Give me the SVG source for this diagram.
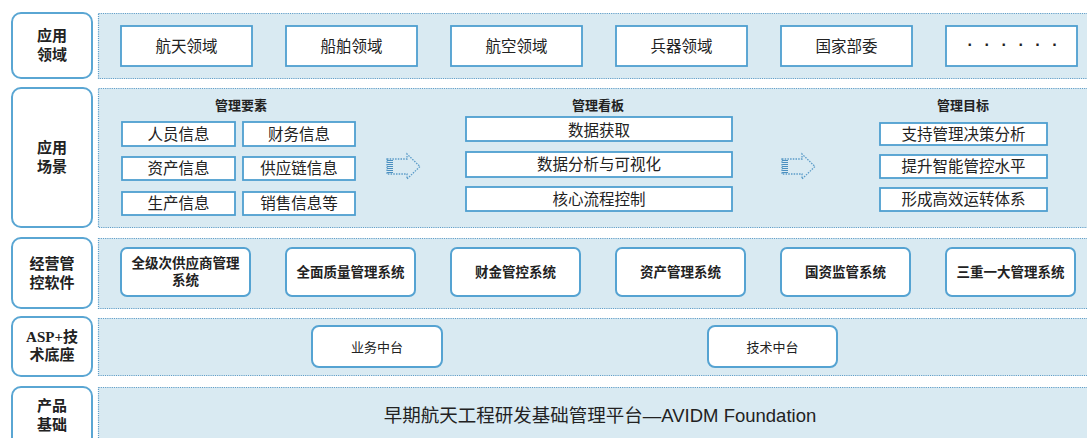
<svg xmlns="http://www.w3.org/2000/svg" width="1087" height="438" viewBox="0 0 1087 438">
<defs>
<pattern id="stripes" width="4" height="2" patternUnits="userSpaceOnUse">
<rect width="4" height="1" fill="#4b8fbf"/>
</pattern>
<style>
text{font-family:"Liberation Sans","Noto Sans CJK SC",sans-serif;fill:#222;}
.lbl{fill:#fff;stroke:#5aa6d3;stroke-width:2;}
.lt{font-size:15px;font-weight:bold;text-anchor:middle;}
.panel{fill:#d9eaf2;stroke:#5e9dc7;stroke-width:1.2;stroke-dasharray:1.2 1;}
.sq{fill:#fff;stroke:#4e9fd0;stroke-width:1.8;}
.rd{fill:#fff;stroke:#55a3d2;stroke-width:2;}
.t15{font-size:15.5px;text-anchor:middle;}
.t13b{font-size:13.5px;font-weight:bold;text-anchor:middle;}
.h{font-size:13px;font-weight:bold;text-anchor:middle;}
.t13{font-size:13px;text-anchor:middle;}
.arr{fill:none;stroke:#5a9bc8;stroke-width:1.3;stroke-dasharray:1.5 1.2;}
</style>
</defs>

<g id="panels">
<rect class="panel" x="98.5" y="13.5" width="995" height="65"/>
<rect class="panel" x="98.5" y="88.5" width="995" height="139"/>
<rect class="panel" x="98.5" y="238.5" width="995" height="70"/>
<rect class="panel" x="98.5" y="318.5" width="995" height="57"/>
<rect class="panel" x="98.5" y="387.5" width="995" height="60"/>
</g>

<g id="label-row1"><rect class="lbl" x="12" y="13" width="80" height="65" rx="9"/>
<text class="lt" x="52" y="41">应用</text><text class="lt" x="52" y="59.5">领域</text></g>
<g id="label-row2"><rect class="lbl" x="12" y="88" width="80" height="139" rx="9"/>
<text class="lt" x="52" y="152.5">应用</text><text class="lt" x="52" y="171.5">场景</text></g>
<g id="label-row3"><rect class="lbl" x="12" y="238" width="80" height="70" rx="9"/>
<text class="lt" x="52" y="268.5">经营管</text><text class="lt" x="52" y="287.5">控软件</text></g>
<g id="label-row4"><rect class="lbl" x="12" y="317" width="80" height="59" rx="9"/>
<text class="lt" x="52" y="342"><tspan font-family="Liberation Serif, serif">ASP+</tspan>技</text><text class="lt" x="52" y="359.5">术底座</text></g>
<g id="label-row5"><rect class="lbl" x="12" y="387" width="80" height="70" rx="9"/>
<text class="lt" x="52" y="410.5">产品</text><text class="lt" x="52" y="430">基础</text></g>

<g id="domain-aerospace"><rect class="sq" x="121" y="26" width="131" height="40"/><text class="t15" x="186.5" y="51.5">航天领域</text></g>
<g id="domain-ship"><rect class="sq" x="286" y="26" width="131" height="40"/><text class="t15" x="351.5" y="51.5">船舶领域</text></g>
<g id="domain-aviation"><rect class="sq" x="451" y="26" width="131" height="40"/><text class="t15" x="516.5" y="51.5">航空领域</text></g>
<g id="domain-weapon"><rect class="sq" x="616" y="26" width="131" height="40"/><text class="t15" x="681.5" y="51.5">兵器领域</text></g>
<g id="domain-ministry"><rect class="sq" x="781" y="26" width="131" height="40"/><text class="t15" x="846.5" y="51.5">国家部委</text></g>
<g id="domain-more"><rect class="sq" x="946" y="26" width="131" height="40"/><text x="967.6" y="50" font-size="16" font-weight="bold" letter-spacing="11.6" style="fill:#222">······</text></g>

<g id="elements">
<text class="h" x="241" y="109.5">管理要素</text>
<rect class="sq" x="122" y="122" width="113" height="24"/><text class="t15" x="178.5" y="139.5">人员信息</text>
<rect class="sq" x="243" y="122" width="112" height="24"/><text class="t15" x="299" y="139.5">财务信息</text>
<rect class="sq" x="122" y="157" width="113" height="23"/><text class="t15" x="178.5" y="174">资产信息</text>
<rect class="sq" x="243" y="157" width="112" height="23"/><text class="t15" x="299" y="174">供应链信息</text>
<rect class="sq" x="122" y="192" width="113" height="23"/><text class="t15" x="178.5" y="209">生产信息</text>
<rect class="sq" x="243" y="192" width="112" height="23"/><text class="t15" x="299" y="209">销售信息等</text>
</g>

<g id="dashboard">
<text class="h" x="598" y="109.5">管理看板</text>
<rect class="sq" x="466" y="117" width="266" height="24"/><text class="t15" x="599" y="136">数据获取</text>
<rect class="sq" x="466" y="152" width="266" height="25"/><text class="t15" x="599" y="170">数据分析与可视化</text>
<rect class="sq" x="466" y="187" width="266" height="24"/><text class="t15" x="599" y="204.5">核心流程控制</text>
</g>

<g id="goals">
<text class="h" x="963" y="109.5">管理目标</text>
<rect class="sq" x="880" y="123" width="167" height="22"/><text class="t15" x="963.5" y="139.5">支持管理决策分析</text>
<rect class="sq" x="880" y="155" width="167" height="23"/><text class="t15" x="963.5" y="171.5">提升智能管控水平</text>
<rect class="sq" x="880" y="188" width="167" height="23"/><text class="t15" x="963.5" y="205">形成高效运转体系</text>
</g>

<g id="sys-supplier"><rect class="rd" x="121" y="248" width="129" height="48" rx="6"/><text class="t13b" x="185.5" y="268">全级次供应商管理</text><text class="t13b" x="185.5" y="284.5">系统</text></g>
<g id="sys-quality"><rect class="rd" x="286" y="248" width="129" height="48" rx="6"/><text class="t13b" x="350.5" y="277">全面质量管理系统</text></g>
<g id="sys-finance"><rect class="rd" x="451" y="248" width="129" height="48" rx="6"/><text class="t13b" x="515.5" y="277">财金管控系统</text></g>
<g id="sys-asset"><rect class="rd" x="616" y="248" width="129" height="48" rx="6"/><text class="t13b" x="680.5" y="277">资产管理系统</text></g>
<g id="sys-stateasset"><rect class="rd" x="781" y="248" width="129" height="48" rx="6"/><text class="t13b" x="845.5" y="277">国资监管系统</text></g>
<g id="sys-tripleone"><rect class="rd" x="946" y="248" width="129" height="48" rx="6"/><text class="t13b" x="1010.5" y="277">三重一大管理系统</text></g>

<g id="biz-platform"><rect class="rd" x="312" y="326" width="130" height="41" rx="7"/><text class="t13" x="377" y="351.5">业务中台</text></g>
<g id="tech-platform"><rect class="rd" x="708" y="326" width="129" height="41" rx="7"/><text class="t13" x="772.5" y="351.5">技术中台</text></g>

<g id="foundation"><text x="600" y="422" font-size="18.5" text-anchor="middle">早期航天工程研发基础管理平台—AVIDM Foundation</text></g>

<g id="connectors">
<rect x="387" y="159" width="6" height="15" fill="url(#stripes)"/>
<path class="arr" d="M387,159 H407 V154 L420,166.5 L407,179 V174 H387 Z"/>
<rect x="782" y="159" width="6" height="15" fill="url(#stripes)"/>
<path class="arr" d="M782,159 H802 V154 L815,166.5 L802,179 V174 H782 Z"/>
</g>
</svg>
